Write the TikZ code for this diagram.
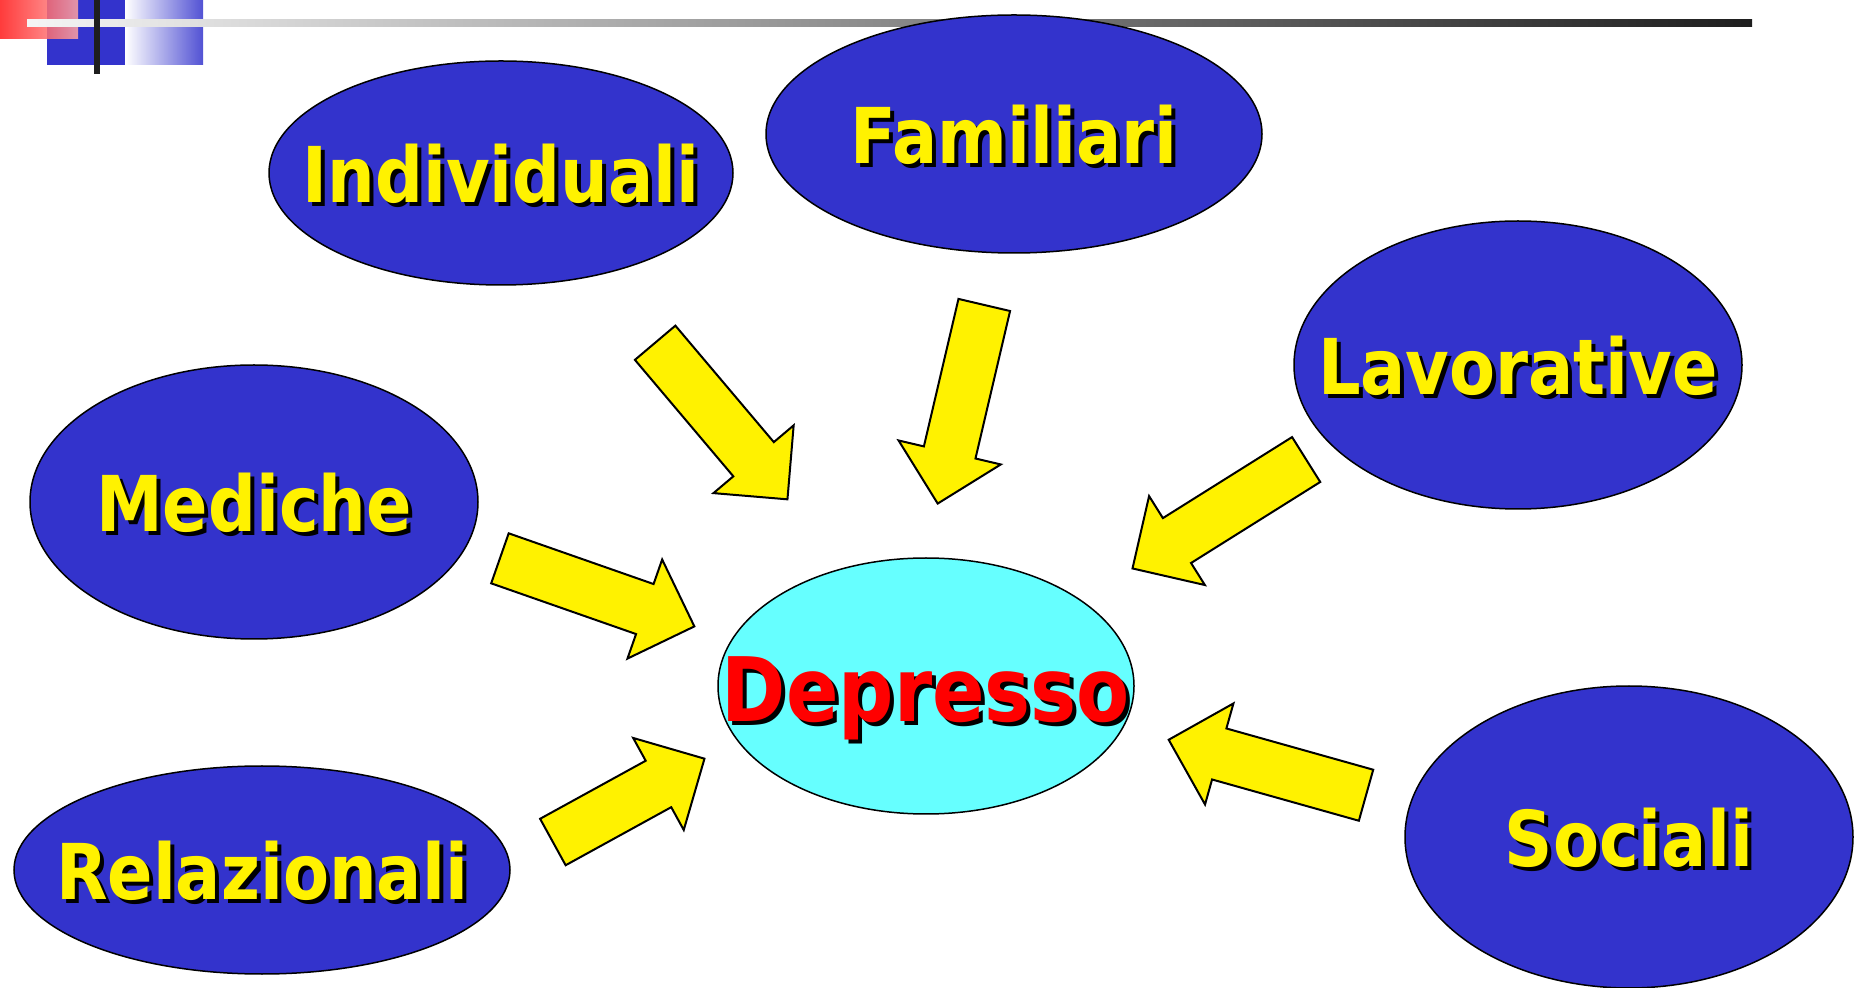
\documentclass[tikz,border=0pt]{standalone}
\usepackage{fontspec}
\usepackage{xcolor}
\usetikzlibrary{shapes.geometric,shapes.arrows}
\newfontfamily\lblfont{DejaVu Sans Bold}[FakeStretch=0.87]
\definecolor{slideblue}{RGB}{51,51,204}
\definecolor{lightcyan}{RGB}{102,255,255}
\definecolor{barblack}{RGB}{30,30,30}
% yellow text with a black shadow behind it
\newcommand{\shtxt}[1]{\rlap{\kern2pt\raisebox{-2pt}{\color{black}#1}}#1}

\begin{document}
\begin{tikzpicture}[x=0.5pt,y=-0.5pt,
    factor/.style={ellipse,draw=black,line width=0.75pt,fill=slideblue,inner sep=0pt},
    centre/.style={ellipse,draw=black,line width=0.75pt,fill=lightcyan,inner sep=0pt},
    factortext/.style={font=\lblfont\fontsize{38.5}{40}\selectfont,text=yellow,inner sep=0pt},
    centretext/.style={font=\lblfont\fontsize{44.5}{46}\selectfont,text=red,inner sep=0pt},
    pointer/.style={single arrow,draw=black,line width=1pt,fill=yellow,inner sep=0pt,
      text height=25.5pt,text depth=0pt,single arrow head extend=13pt,anchor=tail}]
   \useasboundingbox (0,0) rectangle (1854,988);
   \clip (0,0) rectangle (1854,988);
   % corner decoration
   \fill[slideblue] (47,0) rectangle (125,65);
   \shade[left color=white,right color=slideblue!85] (125,0) rectangle (203,65);
   \shade[left color=red!90,right color=red!35,fill opacity=0.85] (0,0) rectangle (78,39);
   \shade[left color=gray!8,right color=barblack] (27,20) rectangle (1752,27);
   \fill[barblack] (94,0) rectangle (100,74);
   % the ellipses
   \node[factor,minimum width=232pt,minimum height=112pt] (ind) at (501,173) {};
   \node[factor,minimum width=248pt,minimum height=119pt] (fam) at (1014,134) {};
   \node[factor,minimum width=224pt,minimum height=144pt] (lav) at (1518,365) {};
   \node[factor,minimum width=224pt,minimum height=137pt] (med) at (254,502) {};
   \node[factor,minimum width=248pt,minimum height=104pt] (rel) at (262,870) {};
   \node[factor,minimum width=224pt,minimum height=151pt] (soc) at (1629,837) {};
   \node[centre,minimum width=208pt,minimum height=128pt] (dep) at (926,686) {};
   % the labels
   \node[factortext] (ind-t) at ([yshift=-1.5pt]ind.center) {\shtxt{Individuali}};
   \node[factortext] (fam-t) at ([yshift=-1.5pt]fam.center) {\shtxt{Familiari}};
   \node[factortext] (lav-t) at ([yshift=-1.5pt]lav.center) {\shtxt{Lavorative}};
   \node[factortext] (med-t) at ([yshift=-1.5pt]med.center) {\shtxt{Mediche}};
   \node[factortext] (rel-t) at ([yshift=-1.5pt]rel.center) {\shtxt{Relazionali}};
   \node[factortext] (soc-t) at ([yshift=-1.5pt]soc.center) {\shtxt{Sociali}};
   \node[centretext,text depth=0pt] (dep-t) at ([yshift=-1.5pt]dep.center) {\shtxt{Depresso}};
   % the block arrows: tail x, tail y, angle, length
   \foreach \x/\y/\a/\l/\n in {654.5/342/-49.8/205/a1, 984.5/304/-103.2/204/a2,
       1307/459/-147.9/205/a3, 499/558/-19.3/206/a4,
       552/842.5/28.8/173/a5, 1367/795.5/164.3/205/a6}
     \node[pointer,rotate=\a,minimum height=\l*0.5pt] (\n) at (\x,\y) {};
\end{tikzpicture}
\end{document}
